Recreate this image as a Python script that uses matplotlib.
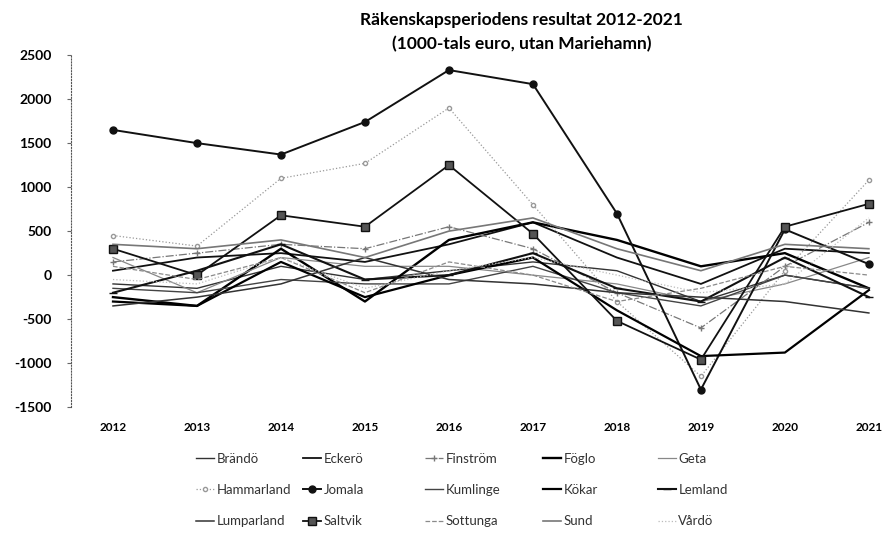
import matplotlib
matplotlib.use("Agg")
import matplotlib.pyplot as plt

years = ["2012", "2013", "2014", "2015", "2016", "2017", "2018", "2019", "2020", "2021"]

brando = [-100, -150, 100, -50, 50, 150, 50, -300, 0, -150]
eckero = [50, 200, 250, 150, 350, 600, 200, -100, 300, 250]
finstrom = [150, 250, 350, 300, 550, 300, -200, -600, 100, 600]
foglo = [-250, -350, 300, -300, 400, 600, 400, 100, 250, -150]
geta = [200, -200, 200, 100, 100, 0, -100, -300, -100, 200]
hammarland = [450, 330, 1100, 1270, 1900, 800, -300, -1150, 50, 1080]
jomala = [1650, 1500, 1370, 1740, 2330, 2170, 700, -1300, 520, 125]
kumlinge = [-150, -200, -50, -100, -100, 100, -200, -350, 0, -150]
kokar = [-300, -350, 150, -250, 0, 200, -400, -920, -880, -170]
lemland = [-200, 50, 350, -50, 0, 250, -150, -300, 200, -250]
lumparland = [-350, -250, -100, 200, -50, -100, -200, -250, -300, -430]
saltvik = [300, 0, 680, 550, 1250, 470, -520, -960, 550, 810]
sottunga = [100, -50, 200, -200, 150, 0, -300, -150, 100, 0]
sund = [350, 300, 400, 200, 500, 650, 300, 50, 350, 300]
vardo = [-50, -100, 200, -150, 50, 200, 0, -200, -100, 650]

series = [
    ("Brändö", brando, dict(color="#333333", lw=1.0)),
    ("Eckerö", eckero, dict(color="#111111", lw=1.3)),
    ("Finström", finstrom, dict(color="#777777", lw=0.9, ls="-.", marker="+", ms=4)),
    ("Föglo", foglo, dict(color="#000000", lw=1.7)),
    ("Geta", geta, dict(color="#888888", lw=0.9)),
    ("Hammarland", hammarland, dict(color="#999999", lw=0.9, ls=":", marker="o", ms=3, mfc="white")),
    ("Jomala", jomala, dict(color="#111111", lw=1.4, marker="o", ms=5)),
    ("Kumlinge", kumlinge, dict(color="#444444", lw=1.0)),
    ("Kökar", kokar, dict(color="#000000", lw=1.6)),
    ("Lemland", lemland, dict(color="#111111", lw=1.5, marker="_", ms=6)),
    ("Lumparland", lumparland, dict(color="#333333", lw=1.1)),
    ("Saltvik", saltvik, dict(color="#111111", lw=1.3, marker="s", ms=6, mfc="#555555", mec="#111111")),
    ("Sottunga", sottunga, dict(color="#8a8a8a", lw=0.9, ls="--")),
    ("Sund", sund, dict(color="#777777", lw=1.2)),
    ("Vårdö", vardo, dict(color="#bbbbbb", lw=0.9, ls=":")),
]

plt.rcParams["font.family"] = ["Lato", "DejaVu Sans"]
plt.rcParams["axes.unicode_minus"] = False

fig = plt.figure(figsize=(8.84, 5.35), dpi=100)
ax = fig.add_axes([0.0803, 0.239, 0.9197, 0.658])

x = range(len(years))
handles = []
for name, vals, style in series:
    h, = ax.plot(x, vals, label=name, **style)
    handles.append(h)

ax.set_xlim(-0.5, 9.18)
ax.set_ylim(-1500, 2500)
ax.set_yticks(range(-1500, 2501, 500))
ax.set_xticks(list(x))
ax.set_xticklabels(years, fontsize=8.5, fontweight="bold")
for lab in ax.get_yticklabels():
    lab.set_fontsize(10)
    lab.set_fontweight("bold")

for s in ["top", "right", "bottom"]:
    ax.spines[s].set_visible(False)
ax.spines["left"].set_linestyle(":")
ax.spines["left"].set_color("#555555")
ax.tick_params(axis="x", length=0, pad=11)
ax.tick_params(axis="y", length=3, color="#666666", pad=11)

fig.text(0.59, 0.962, "Räkenskapsperiodens resultat 2012-2021",
         ha="center", va="center", fontsize=12.5, fontweight="bold")
fig.text(0.59, 0.918, "(1000-tals euro, utan Mariehamn)",
         ha="center", va="center", fontsize=12.5, fontweight="bold")

# legend laid out column by column, like the original
col_x = [196, 303, 425, 543, 658]
for c in range(5):
    idx = [c, c + 5, c + 10]
    leg = fig.legend([handles[i] for i in idx], [series[i][0] for i in idx],
                     loc="center left", bbox_to_anchor=(col_x[c] / 884, 0.084),
                     frameon=False, fontsize=9.5, handlelength=1.4,
                     handletextpad=0.15, labelspacing=1.45,
                     borderpad=0, borderaxespad=0)
    for t in leg.get_texts():
        t.set_color("#333333")

fig.savefig("out.png", dpi=100)
